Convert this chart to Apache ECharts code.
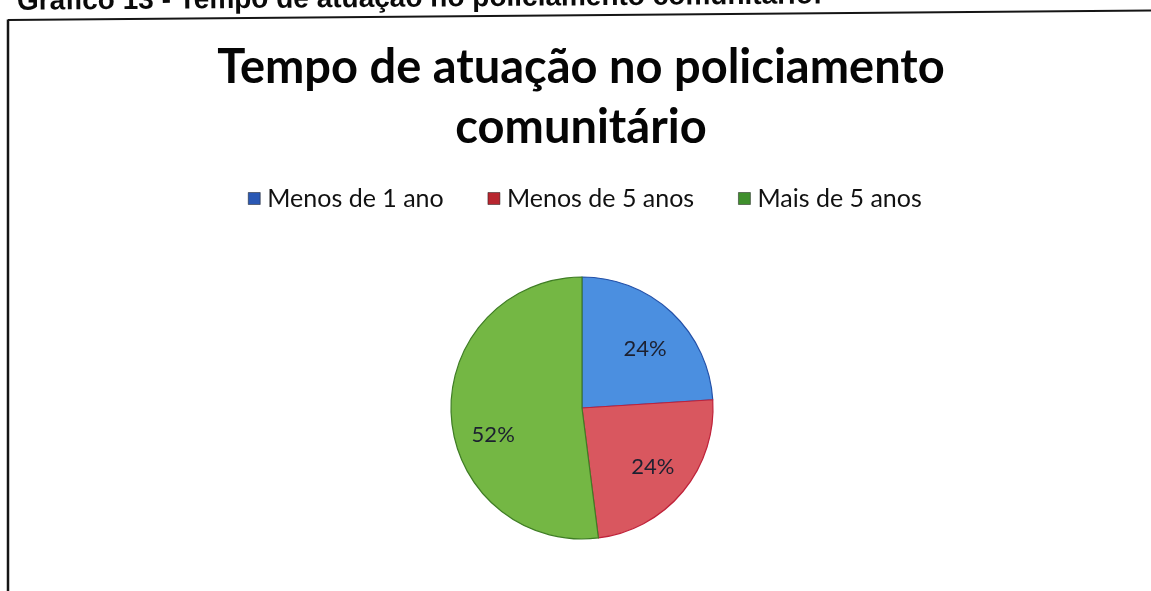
<!DOCTYPE html>
<html>
<head>
<meta charset="utf-8">
<script src="https://cdn.jsdelivr.net/npm/echarts@6/dist/echarts.min.js"></script>
<style>
  html, body { margin: 0; padding: 0; background: #ffffff; }
  #chart { width: 1151px; height: 591px; }
</style>
</head>
<body>
<div id="chart"></div>
<script>
// Survey answers: time spent working in community policing
const categories = ['Menos de 1 ano', 'Menos de 5 anos', 'Mais de 5 anos'];
const shares = [24, 24, 52];
const sliceColors = ['#4b8fe0', '#d9575f', '#74b744'];
const edgeColors = ['#2350a8', '#c0223a', '#3f7d25'];
const legendColors = ['#2a58b4', '#b8262f', '#3f8f2c'];

const captionText = 'Gráfico 13 - Tempo de atuação no policiamento comunitário:';
const chartTitle = 'Tempo de atuação no policiamento\ncomunitário';

const pieCenter = [582, 408];
const pieRadius = 131;
const tilt = Math.atan2(9, 1143); // the page sits slightly askew

const chart = echarts.init(document.getElementById('chart'), null, { renderer: 'canvas' });

const pieData = categories.map((name, i) => ({ name: name, value: shares[i] }));

chart.setOption({
  backgroundColor: '#ffffff',
  animation: false,
  title: {
    text: chartTitle,
    left: 576,
    top: 33,
    textAlign: 'center',
    textStyle: {
      fontFamily: 'Lato',
      fontWeight: 'bold',
      fontSize: 47,
      lineHeight: 60,
      color: '#050505'
    }
  },
  legend: {
    left: 243,
    top: 181,
    icon: 'rect',
    itemWidth: 12,
    itemHeight: 12,
    itemGap: 44,
    selectedMode: false,
    textStyle: { fontFamily: 'Lato', fontSize: 25, color: '#111111', padding: [0, 0, 0, 2] },
    data: categories.map((name, i) => ({
      name: name,
      itemStyle: { color: legendColors[i], borderColor: '#1a1a1a', borderWidth: 0.5 }
    }))
  },
  graphic: [
    {
      type: 'text',
      x: 17,
      y: 16,
      rotation: tilt,
      style: {
        text: captionText,
        font: 'bold 28px "Liberation Sans", Arial, sans-serif',
        fill: '#0a0a0a',
        textVerticalAlign: 'bottom'
      },
      z: 10
    },
    {
      type: 'line',
      shape: { x1: 8, y1: 20, x2: 1151, y2: 10.5 },
      style: { stroke: '#151515', lineWidth: 2.2 }
    },
    {
      type: 'line',
      shape: { x1: 8, y1: 19.5, x2: 8, y2: 591 },
      style: { stroke: '#151515', lineWidth: 2.5 }
    }
  ],
  series: [
    {
      // the slices
      type: 'pie',
      center: pieCenter,
      radius: [0, pieRadius],
      startAngle: 90,
      clockwise: true,
      silent: true,
      label: { show: false },
      labelLine: { show: false },
      data: pieData.map((d, i) => ({
        name: d.name,
        value: d.value,
        itemStyle: { color: sliceColors[i], borderColor: edgeColors[i], borderWidth: 1.2 }
      }))
    },
    {
      // an invisible ring that carries the percentage labels further out
      type: 'pie',
      center: pieCenter,
      radius: [40, 138],
      startAngle: 90,
      clockwise: true,
      silent: true,
      z: 3,
      itemStyle: { color: 'rgba(0,0,0,0)' },
      label: {
        show: true,
        position: 'inside',
        formatter: '{c}%',
        fontFamily: 'Lato',
        fontSize: 22,
        color: '#1c2030'
      },
      labelLine: { show: false },
      data: pieData.map((d, i) => ({
        name: d.name,
        value: d.value,
        label: i === 2 ? { offset: [3, 21] } : (i === 0 ? { offset: [0, 8] } : {})
      }))
    }
  ]
});
</script>
</body>
</html>
